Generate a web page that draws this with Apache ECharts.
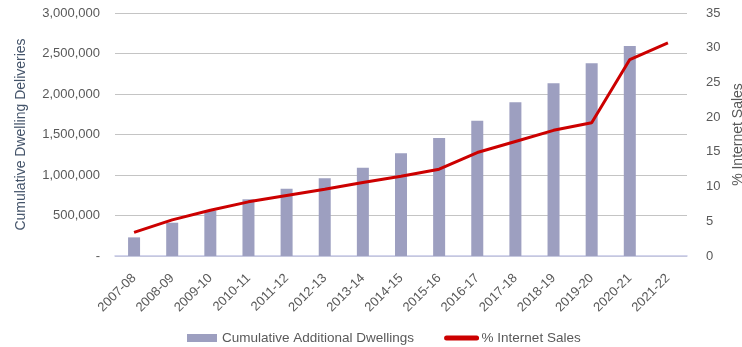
<!DOCTYPE html>
<html><head><meta charset="utf-8">
<script src="https://cdn.jsdelivr.net/npm/echarts@6/dist/echarts.min.js"></script>
<style>html,body{margin:0;padding:0;background:#fff}#c{width:742px;height:347px}</style>
</head><body><div id="c"></div>
<script>
const categories = ['2007-08','2008-09','2009-10','2010-11','2011-12','2012-13','2013-14','2014-15','2015-16','2016-17','2017-18','2018-19','2019-20','2020-21','2021-22'];
const dwellings = [230000,411000,559000,700000,831000,959000,1090000,1268000,1457000,1670000,1897000,2132000,2379000,2593000,null];
const internetSales = [3.4,5.2,6.6,7.8,8.7,9.6,10.6,11.5,12.5,14.9,16.5,18.1,19.2,28.3,30.7];
const leftTicks = ['-','500,000','1,000,000','1,500,000','2,000,000','2,500,000','3,000,000'];

const font = '"Liberation Sans", Arial, sans-serif';
const txt = '#595959';
const chart = echarts.init(document.getElementById('c'), null, {renderer:'canvas'});
chart.setOption({
  animation:false,
  textStyle:{fontFamily:font},
  grid:{left:115,right:55,top:13,bottom:91,containLabel:false,outerBoundsMode:'none'},
  legend:{
    left:182,top:326,itemGap:30,itemWidth:30,itemHeight:8,
    textStyle:{color:txt,fontSize:13.5,fontFamily:font},
    data:[
      {name:'Cumulative Additional Dwellings',icon:'rect'},
      {name:'% Internet Sales',itemStyle:{opacity:0},lineStyle:{width:5,cap:'round'}}
    ]
  },
  xAxis:{
    type:'category',data:categories,
    axisLine:{lineStyle:{color:'#c5c8e6',width:1.5}},
    axisTick:{show:false},
    axisLabel:{rotate:45,color:txt,fontSize:13,margin:20,interval:0}
  },
  yAxis:[{
    type:'value',min:0,max:3000000,interval:500000,
    name:'Cumulative Dwelling Deliveries',nameLocation:'middle',nameGap:87,nameRotate:90,
    nameTextStyle:{color:'#44546a',fontSize:14},
    axisLabel:{color:txt,fontSize:13,margin:15,formatter:(v)=>leftTicks[Math.round(v/500000)]},
    axisLine:{show:false},axisTick:{show:false},
    splitLine:{lineStyle:{color:'#c4c4c4',width:1}}
  },{
    type:'value',min:0,max:35,interval:5,position:'right',
    name:'% Internet Sales',nameLocation:'middle',nameGap:40,nameRotate:90,
    nameTextStyle:{color:txt,fontSize:14},
    axisLabel:{color:txt,fontSize:13,margin:19},
    axisLine:{show:false},axisTick:{show:false},splitLine:{show:false}
  }],
  series:[{
    name:'Cumulative Additional Dwellings',type:'bar',data:dwellings,yAxisIndex:0,
    barWidth:12,itemStyle:{color:'#9d9fc0'}
  },{
    name:'% Internet Sales',type:'line',data:internetSales,yAxisIndex:1,
    symbol:'none',lineStyle:{color:'#cc0000',width:3},itemStyle:{color:'#cc0000'}
  }]
});
</script></body></html>
